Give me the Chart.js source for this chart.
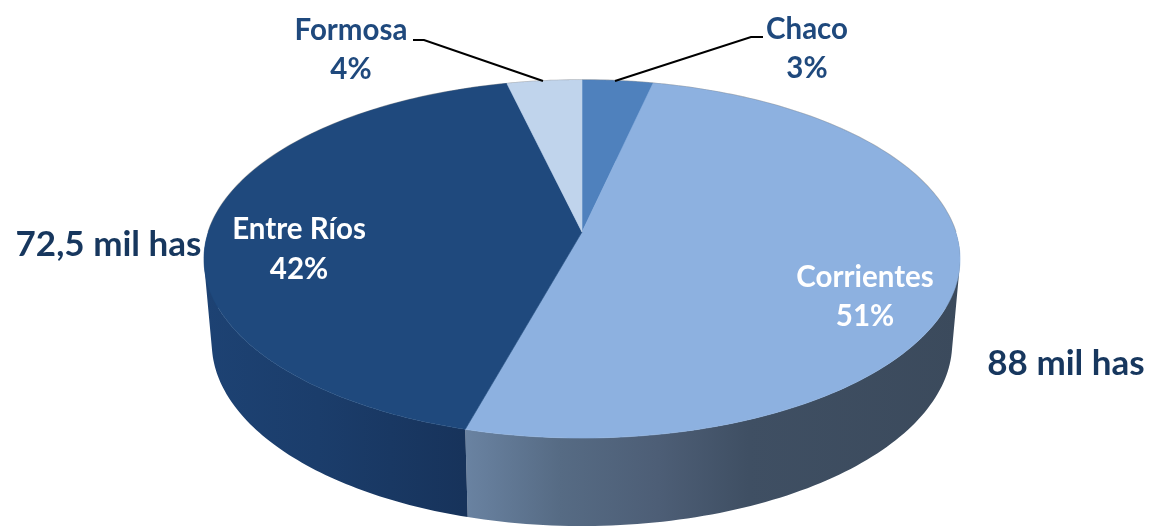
<!DOCTYPE html>
<html>
<head>
<meta charset="utf-8">
<title>Has por provincia</title>
<script src="https://cdnjs.cloudflare.com/ajax/libs/Chart.js/4.4.1/chart.umd.min.js"></script>
<style>
  html, body { margin: 0; padding: 0; background: #fff; }
  canvas { display: block; }
</style>
</head>
<body>
<canvas id="pieChart" width="1155" height="528"></canvas>
<script>
const provinces = ["Chaco", "Corrientes", "Entre Ríos", "Formosa"];
// slice sizes, they round to the printed percentages
const shares = [3.5, 50.8, 42, 3.7];
const percentLabels = ["3%", "51%", "42%", "4%"];
const hectareLabels = ["72,5 mil has", "88 mil has"];

const topColors = ["#4f81bd", "#8db1e0", "#1f497d", "#c0d4ec"];

// perspective of the tilted disc: k is the foreshortening
const centerX = 582;
const k = -0.151;
const topRim = { rx: 373.7, ry: 139.9, y0: 232 };
const bottomRim = { rx: 366, ry: 131.4, y0: 315.2 };

function project(rim, angle) {
  const u = Math.cos(angle);
  const v = Math.sin(angle);
  const d = 1 + k * v;
  return [centerX + (rim.rx * u) / d, (rim.ry * v + rim.y0) / d];
}

function traceRim(ctx, rim, from, to) {
  const steps = 160;
  for (let i = 0; i <= steps; i++) {
    const p = project(rim, from + ((to - from) * i) / steps);
    ctx.lineTo(p[0], p[1]);
  }
}

// wall of one slice as a row of small quads, all wound the same way so the
// fill also covers the corner past the point where the two rims cross
function traceWall(ctx, from, to) {
  const steps = 160;
  for (let i = 0; i < steps; i++) {
    const a = from + ((to - from) * i) / steps;
    const b = from + ((to - from) * (i + 1)) / steps;
    const quad = [project(topRim, a), project(topRim, b), project(bottomRim, b), project(bottomRim, a)];
    let area = 0;
    quad.forEach((p, n) => {
      const q = quad[(n + 1) % 4];
      area += p[0] * q[1] - q[0] * p[1];
    });
    if (area < 0) quad.reverse();
    ctx.moveTo(quad[0][0], quad[0][1]);
    ctx.lineTo(quad[1][0], quad[1][1]);
    ctx.lineTo(quad[2][0], quad[2][1]);
    ctx.lineTo(quad[3][0], quad[3][1]);
    ctx.closePath();
  }
}

function wallFill(ctx, index) {
  const g = ctx.createLinearGradient(205, 0, 960, 0);
  if (index === 1) {
    g.addColorStop(0.343, "#6a83a2");
    g.addColorStop(0.47, "#566b84");
    g.addColorStop(0.6, "#4d5e76");
    g.addColorStop(0.72, "#3f4f63");
    g.addColorStop(1, "#3b4a5c");
  } else if (index === 2) {
    g.addColorStop(0, "#1d4273");
    g.addColorStop(0.15, "#1b3d6b");
    g.addColorStop(0.343, "#17335b");
  } else {
    return topColors[index];
  }
  return g;
}

function drawCenteredText(ctx, text, x, y, font, color) {
  ctx.font = font;
  ctx.fillStyle = color;
  ctx.textAlign = "center";
  ctx.textBaseline = "alphabetic";
  ctx.fillText(text, x, y);
}

const tiltedPie = {
  id: "tiltedPie",
  beforeDatasetsDraw(chart) {
    const ctx = chart.ctx;
    const arcs = chart.getDatasetMeta(0).data;

    ctx.save();
    // walls first, the top face covers whatever is behind it
    arcs.forEach((arc, i) => {
      ctx.beginPath();
      traceWall(ctx, arc.startAngle, arc.endAngle);
      ctx.fillStyle = wallFill(ctx, i);
      ctx.fill();
    });

    // soft grey edge along the back of the disc
    ctx.beginPath();
    traceRim(ctx, topRim, Math.PI, Math.PI * 2);
    ctx.strokeStyle = "rgba(120,120,120,0.55)";
    ctx.lineWidth = 1.6;
    ctx.stroke();

    arcs.forEach((arc, i) => {
      ctx.beginPath();
      ctx.moveTo(centerX, topRim.y0);
      traceRim(ctx, topRim, arc.startAngle, arc.endAngle);
      ctx.closePath();
      ctx.fillStyle = topColors[i];
      ctx.strokeStyle = topColors[i];
      ctx.lineWidth = 0.6;
      ctx.fill();
      ctx.stroke();
    });
    ctx.restore();
    return false;
  },
  afterDraw(chart) {
    const ctx = chart.ctx;
    ctx.save();

    ctx.strokeStyle = "#000";
    ctx.lineWidth = 2;
    ctx.beginPath();
    ctx.moveTo(413, 40);
    ctx.lineTo(424, 40);
    ctx.lineTo(543, 81);
    ctx.moveTo(615, 81);
    ctx.lineTo(751, 37);
    ctx.lineTo(763, 37);
    ctx.stroke();

    const small = "bold 29.5px Lato";
    const big = "bold 35px Lato";
    drawCenteredText(ctx, provinces[0], 807, 39, small, "#1f497d");
    drawCenteredText(ctx, percentLabels[0], 807, 78, small, "#1f497d");
    drawCenteredText(ctx, provinces[3], 351, 40, small, "#1f497d");
    drawCenteredText(ctx, percentLabels[3], 351, 79, small, "#1f497d");
    drawCenteredText(ctx, provinces[2], 299, 239, small, "#fff");
    drawCenteredText(ctx, percentLabels[2], 299, 279, small, "#fff");
    drawCenteredText(ctx, provinces[1], 865, 287, small, "#fff");
    drawCenteredText(ctx, percentLabels[1], 865, 326, small, "#fff");
    drawCenteredText(ctx, hectareLabels[0], 108.5, 256, big, "#17375e");
    drawCenteredText(ctx, hectareLabels[1], 1066, 375, big, "#17375e");
    ctx.restore();
  },
};

new Chart(document.getElementById("pieChart"), {
  type: "pie",
  data: {
    labels: provinces,
    datasets: [{ data: shares, backgroundColor: topColors, borderWidth: 0 }],
  },
  options: {
    responsive: false,
    animation: false,
    events: [],
    plugins: { legend: { display: false }, tooltip: { enabled: false } },
  },
  plugins: [tiltedPie],
});
</script>
</body>
</html>
